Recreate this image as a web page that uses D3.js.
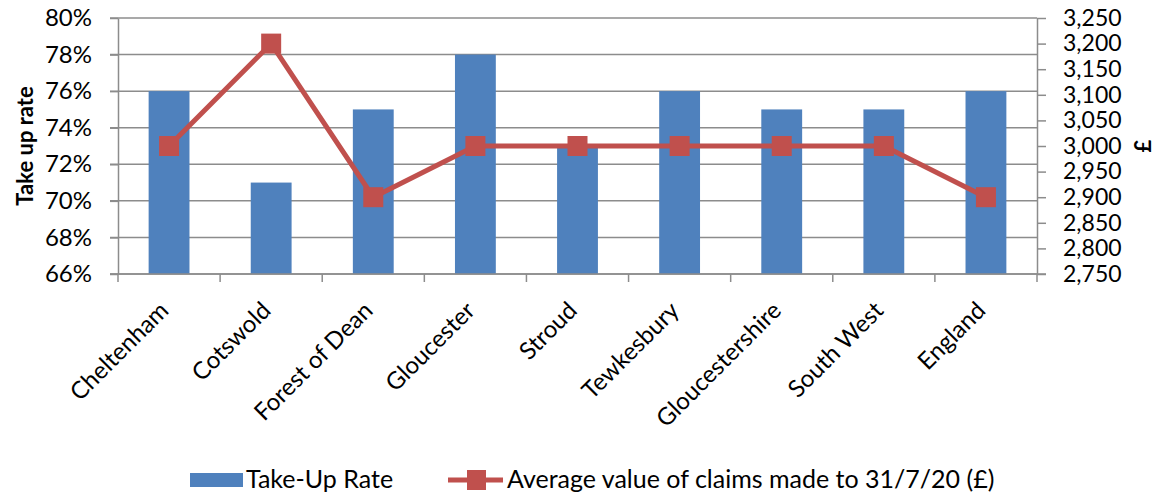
<!DOCTYPE html>
<html lang="en">
  <head>
    <title>Take up rate chart</title>
    <script src="https://d3js.org/d3.v7.min.js" charset="utf-8"></script>
    <style type="text/css">
      body { margin: 0; background: white; font-family: "Lato", "Liberation Sans", sans-serif; }
      .grid line { stroke: #8c8c8c; stroke-width: 1.5; }
      .axis path, .axis line { stroke: #8c8c8c; stroke-width: 1.5; }
      .axis text { font-size: 24px; fill: #000; font-family: "Lato", sans-serif; }
      .axis.right text { font-size: 23px; }
    </style>
  </head>
  <body>
    <script>
      // chart data
      var areas = ["Cheltenham", "Cotswold", "Forest of Dean", "Gloucester", "Stroud",
                   "Tewkesbury", "Gloucestershire", "South West", "England"];
      var takeUp = [76, 71, 75, 78, 73, 76, 75, 75, 76];
      var avgClaim = [3000, 3200, 2900, 3000, 3000, 3000, 3000, 3000, 2900];
      var leftTicks = [66, 68, 70, 72, 74, 76, 78, 80];
      var rightTicks = [2750, 2800, 2850, 2900, 2950, 3000, 3050, 3100, 3150, 3200, 3250];
      var seriesNames = ["Take-Up Rate", "Average value of claims made to 31/7/20 (£)"];

      var width = 1157;
      var height = 495;
      var margin = {top: 18, right: 120, bottom: 221, left: 118};
      var barColor = "#4f81bd";
      var lineColor = "#c0504d";

      var svg = d3.select("body")
        .append("svg")
        .attr("width", width)
        .attr("height", height);

      var x = d3.scaleBand()
        .domain(areas)
        .range([margin.left, width - margin.right])
        .paddingInner(0.6)
        .paddingOuter(0.3);

      // band for tick positions (no padding)
      var xb = d3.scaleBand().domain(areas).range([margin.left, width - margin.right]);

      var yL = d3.scaleLinear().domain([66, 80]).range([height - margin.bottom, margin.top]);
      var yR = d3.scaleLinear().domain([2750, 3250]).range([height - margin.bottom, margin.top]);

      // gridlines
      svg.append("g")
        .attr("class", "grid")
        .selectAll("line")
        .data(leftTicks)
        .enter()
        .append("line")
        .attr("x1", margin.left - 8)
        .attr("x2", width - margin.right)
        .attr("y1", function(d) { return yL(d); })
        .attr("y2", function(d) { return yL(d); });

      // bars
      svg.append("g")
        .selectAll("rect")
        .data(takeUp)
        .enter()
        .append("rect")
        .attr("x", function(d, i) { return x(areas[i]); })
        .attr("width", x.bandwidth())
        .attr("y", function(d) { return yL(d); })
        .attr("height", function(d) { return yL(66) - yL(d); })
        .attr("fill", barColor);

      // left axis
      svg.append("g")
        .attr("class", "axis")
        .attr("transform", "translate(" + margin.left + ",0)")
        .call(d3.axisLeft(yL).tickValues(leftTicks).tickSize(8).tickSizeOuter(0)
          .tickFormat(function(d) { return d + "%"; }))
        .call(function(g) { g.selectAll("text").attr("x", -26); });

      // right axis
      svg.append("g")
        .attr("class", "axis right")
        .attr("transform", "translate(" + (width - margin.right) + ",0)")
        .call(d3.axisRight(yR).tickValues(rightTicks).tickSize(9).tickSizeOuter(0)
          .tickFormat(d3.format(",")))
        .call(function(g) { g.selectAll("text").attr("x", 26); });

      // bottom axis, ticks between categories
      var bottom = svg.append("g")
        .attr("class", "axis")
        .attr("transform", "translate(0," + (height - margin.bottom) + ")");
      bottom.append("line")
        .attr("x1", margin.left - 8).attr("x2", width - margin.right + 9)
        .attr("y1", 0).attr("y2", 0);
      bottom.selectAll(".tk")
        .data(areas.concat(["end"]))
        .enter()
        .append("line")
        .attr("class", "tk")
        .attr("x1", function(d, i) { return margin.left + i * xb.bandwidth(); })
        .attr("x2", function(d, i) { return margin.left + i * xb.bandwidth(); })
        .attr("y1", 0).attr("y2", 8);
      bottom.selectAll("text")
        .data(areas)
        .enter()
        .append("text")
        .attr("text-anchor", "end")
        .attr("transform", function(d) {
          return "translate(" + (xb(d) + xb.bandwidth() / 2 + 1) + ",38) rotate(-45)";
        })
        .text(function(d) { return d; });

      // line series
      var line = d3.line()
        .x(function(d, i) { return x(areas[i]) + x.bandwidth() / 2; })
        .y(function(d) { return yR(d); });

      svg.append("path")
        .datum(avgClaim)
        .attr("fill", "none")
        .attr("stroke", lineColor)
        .attr("stroke-width", 5)
        .attr("d", line);

      svg.append("g")
        .selectAll("rect")
        .data(avgClaim)
        .enter()
        .append("rect")
        .attr("x", function(d, i) { return x(areas[i]) + x.bandwidth() / 2 - 10; })
        .attr("y", function(d) { return yR(d) - 10; })
        .attr("width", 20)
        .attr("height", 20)
        .attr("fill", lineColor);

      // axis titles
      svg.append("text")
        .attr("transform", "translate(33," + ((margin.top + height - margin.bottom) / 2) + ") rotate(-90)")
        .attr("text-anchor", "middle")
        .attr("font-weight", "bold")
        .attr("font-size", "22px")
        .text("Take up rate");

      svg.append("text")
        .attr("transform", "translate(1151," + ((margin.top + height - margin.bottom) / 2) + ") rotate(-90)")
        .attr("text-anchor", "middle")
        .attr("font-weight", "bold")
        .attr("font-size", "22px")
        .text("£");

      // legend
      var legend = svg.append("g").attr("transform", "translate(0,480)");
      legend.append("rect")
        .attr("x", 190).attr("y", -7).attr("width", 53).attr("height", 14)
        .attr("fill", barColor);
      legend.append("text")
        .attr("x", 246).attr("y", 8).attr("font-size", "25px")
        .text(seriesNames[0]);
      legend.append("line")
        .attr("x1", 448).attr("x2", 503).attr("y1", 0).attr("y2", 0)
        .attr("stroke", lineColor).attr("stroke-width", 5);
      legend.append("rect")
        .attr("x", 467).attr("y", -10).attr("width", 19).attr("height", 20)
        .attr("fill", lineColor);
      legend.append("text")
        .attr("x", 507).attr("y", 8).attr("font-size", "25px")
        .text(seriesNames[1]);
    </script>
  </body>
</html>
